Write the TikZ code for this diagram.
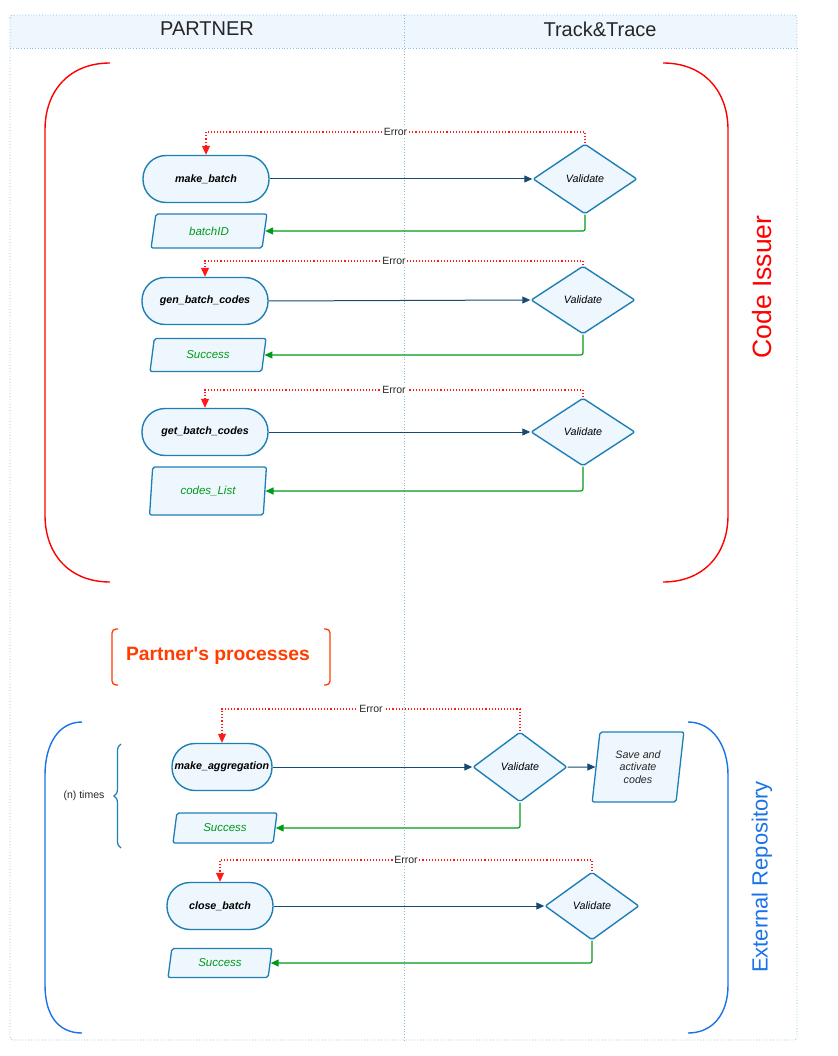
\documentclass[tikz,border=0pt]{standalone}
\usepackage{fontspec}
\setmainfont{Liberation Sans}
\usetikzlibrary{shapes.geometric,arrows.meta,decorations.pathreplacing}
\definecolor{lanefill}{HTML}{EEF7FD}
\definecolor{laneline}{HTML}{86BEDF}
\definecolor{nodeline}{HTML}{1F7FB5}
\definecolor{flowblue}{HTML}{174A72}
\definecolor{okgreen}{HTML}{009A1A}
\definecolor{errred}{HTML}{FF1A1A}
\definecolor{issuerred}{HTML}{FF0000}
\definecolor{procorange}{HTML}{FF3D00}
\definecolor{repoblue}{HTML}{1A73E8}
\tikzset{
  term/.style={draw=nodeline, fill=lanefill, line width=1.4pt, rounded corners=23pt,
    minimum width=126pt, minimum height=47pt, inner sep=0pt,
    font=\fontsize{10.7}{12}\selectfont\bfseries\itshape},
  valid/.style={draw=nodeline, fill=lanefill, line width=1.4pt, shape=diamond, rounded corners=2pt,
    inner sep=0pt, font=\fontsize{10.7}{12}\selectfont\itshape},
  outp/.style={draw=nodeline, fill=lanefill, line width=1.3pt, shape=trapezium,
    trapezium left angle=78, trapezium right angle=102, trapezium stretches=true,
    rounded corners=2pt, inner sep=0pt, text=okgreen,
    font=\fontsize{11.5}{13}\selectfont\itshape},
  flow/.style={draw=flowblue, line width=1pt, -{Triangle[length=8pt,width=7pt]}},
  okflow/.style={draw=okgreen, line width=1.2pt, rounded corners=2pt, -{Triangle[length=8pt,width=7pt]}},
  errflow/.style={draw=errred, line width=1.1pt, dotted, -{Triangle[length=9pt,width=8pt]}},
  errlbl/.style={fill=white, inner sep=1pt, text=black!85, font=\fontsize{10.5}{12}\selectfont},
  lane/.style={draw=laneline, line width=0.8pt, dotted},
}
\begin{document}
\begin{tikzpicture}[x=1pt,y=-1pt]
\useasboundingbox (0,0) rectangle (837,1056);
% pool
\fill[lanefill] (10,15) rectangle (797,48);
\draw[lane, rounded corners=3pt] (10,15) rectangle (797,1040);
\draw[lane] (10,48) -- (797,48);
\draw[lane] (404,15) -- (404,1040);
\node[font=\fontsize{20}{23}\selectfont, text=black!85] (hp) at (207,29) {PARTNER};
\node[font=\fontsize{20}{23}\selectfont, text=black!85] (ht) at (600,29) {Track\&Trace};

% Code issuer brackets
\draw[issuerred, line width=1.4pt] (110,63) .. controls (70,63) and (45,90) .. (45,130) -- (45,515) .. controls (45,555) and (70,582) .. (110,582);
\draw[issuerred, line width=1.4pt] (663,63) .. controls (703,63) and (728,90) .. (728,130) -- (728,515) .. controls (728,555) and (703,582) .. (663,582);
\node[rotate=90, text=issuerred, font=\fontsize{26.5}{29}\selectfont] (ci) at (762,287) {Code Issuer};

% Row 1
\node[term] (mb) at (206,179) {make\_batch};
\node[valid, minimum width=104pt, minimum height=70pt] (v1) at (585,179) {Validate};
\node[outp, minimum width=116pt, minimum height=34pt] (o1) at (209,231) {batchID};
\coordinate (e1) at (0,132);
\draw[flow] (mb.east) -- (v1.west);
\draw[okflow] (v1.south) |- (o1.east);
\draw[errflow] (v1.north) -- (v1.north |- e1) -- node[errlbl]{Error} (mb.north |- e1) -- (mb.north);

% Row 2
\node[term] (gb) at (205,301) {gen\_batch\_codes};
\node[valid, minimum width=104pt, minimum height=68pt] (v2) at (583,300) {Validate};
\node[outp, minimum width=116pt, minimum height=33pt] (o2) at (208,355) {Success};
\coordinate (e2) at (0,261);
\draw[flow] (gb.east) -- (v2.west);
\draw[okflow] (v2.south) |- (o2.east);
\draw[errflow] (v2.north) -- (v2.north |- e2) -- node[errlbl]{Error} (gb.north |- e2) -- (gb.north);

% Row 3
\node[term] (cb) at (205,432) {get\_batch\_codes};
\node[valid, minimum width=104pt, minimum height=68pt] (v3) at (583,432) {Validate};
\node[outp, minimum width=117pt, minimum height=48pt, trapezium left angle=81, trapezium right angle=99] (o3) at (208,491) {codes\_List};
\coordinate (e3) at (0,390);
\draw[flow] (cb.east) -- (v3.west);
\draw[okflow] (v3.south) |- (o3.east);
\draw[errflow] (v3.north) -- (v3.north |- e3) -- node[errlbl]{Error} (cb.north |- e3) -- (cb.north);

% Partner's processes
\draw[procorange, line width=1.3pt, rounded corners=4pt] (118,629) -- (112,629) -- (112,685) -- (118,685);
\draw[procorange, line width=1.3pt, rounded corners=4pt] (324,629) -- (330,629) -- (330,685) -- (324,685);
\node[text=procorange, font=\fontsize{19.3}{22}\selectfont\bfseries] (pp) at (218,656) {Partner\textquotesingle s processes};

% External repository brackets
\draw[repoblue, line width=1.4pt] (82,722) .. controls (58,722) and (45,745) .. (45,775) -- (45,985) .. controls (45,1015) and (58,1033) .. (82,1033);
\draw[repoblue, line width=1.4pt] (688,722) .. controls (712,722) and (728,745) .. (728,775) -- (728,985) .. controls (728,1015) and (712,1033) .. (688,1033);
\node[rotate=90, text=repoblue, font=\fontsize{22}{25}\selectfont] (er) at (762,877) {External Repository};

% (n) times brace
\draw[nodeline, line width=1.2pt, decorate, decoration={brace, amplitude=7pt}] (121,848) -- (121,744);
\node[font=\fontsize{10.5}{12}\selectfont, text=black!85] (nt) at (84,796) {(n) times};

% Row 4
\node[term, minimum width=100pt] (ma) at (222,767) {make\_aggregation};
\node[valid, minimum width=94pt, minimum height=70pt] (v4) at (520,767) {Validate};
\node[outp, minimum width=92pt, minimum height=70pt, trapezium left angle=82, trapezium right angle=98, text=black!85,
  font=\fontsize{10.7}{12.5}\selectfont\itshape, align=center] (sa) at (638,767) {Save and\\activate\\codes};
\node[outp, minimum width=104pt, minimum height=30pt] (o4) at (225,828) {Success};
\coordinate (e4) at (0,709);
\draw[flow] (ma.east) -- (v4.west);
\draw[flow] (v4.east) -- (sa.west);
\draw[okflow] (v4.south) |- (o4.east);
\draw[errflow] (v4.north) -- (v4.north |- e4) -- node[errlbl]{Error} (ma.north |- e4) -- (ma.north);

% Row 5
\node[term, minimum width=106pt] (cl) at (220,906) {close\_batch};
\node[valid, minimum width=94pt, minimum height=68pt] (v5) at (592,906) {Validate};
\node[outp, minimum width=104pt, minimum height=29pt] (o5) at (220,963) {Success};
\coordinate (e5) at (0,860);
\draw[flow] (cl.east) -- (v5.west);
\draw[okflow] (v5.south) |- (o5.east);
\draw[errflow] (v5.north) -- (v5.north |- e5) -- node[errlbl]{Error} (cl.north |- e5) -- (cl.north);
\end{tikzpicture}
\end{document}
